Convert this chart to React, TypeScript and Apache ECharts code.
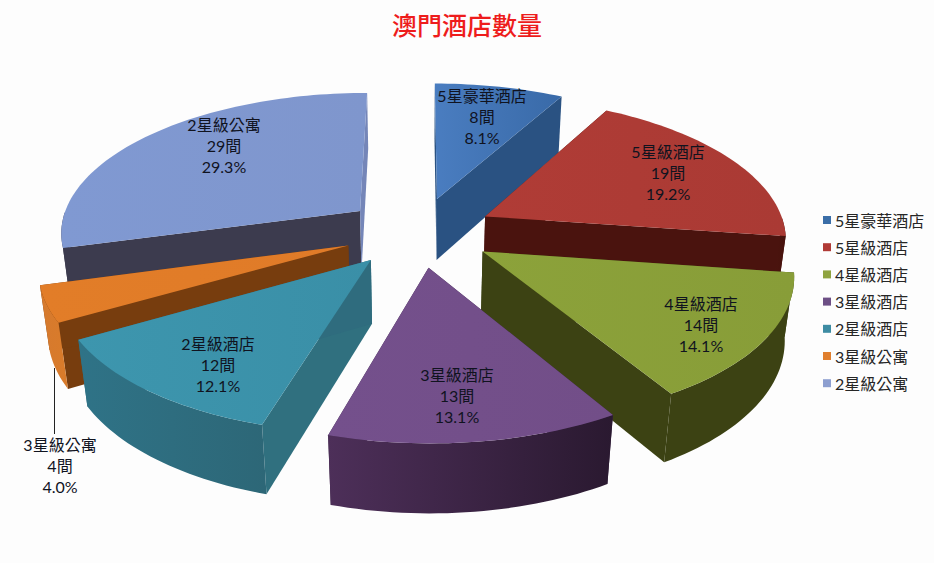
import React, { useEffect, useRef } from "react";
import * as echarts from "echarts";

// ---- data ----
const titleText = "澳門酒店數量";
const categories = ["5星豪華酒店", "5星級酒店", "4星級酒店", "3星級酒店", "2星級酒店", "3星級公寓", "2星級公寓"];
const hotelCounts = [8, 19, 14, 13, 12, 4, 29];
const unitText = "間";

// ---- styles ----
const legendColors = ["#3b6ea8", "#b03a36", "#8fa33f", "#6d4f85", "#3e8ca3", "#e07f2e", "#8d9fd0"];
const topColors = [["#4a7dc0", "#396aa8"], ["#b03c36", "#aa3a34"], ["#8ca23a", "#889d38"], ["#74508c", "#724e88"], ["#3d96ae", "#3a8fa7"], ["#e27d28", "#e07b28"], ["#8099d2", "#7f96cd"]];
const outerColors = [["#2a5282", "#2a5282"], ["#4b140e", "#47120d"], ["#3c4213", "#3c4213"], ["#4d2f59", "#2a1930"], ["#2f7387", "#2d6777"], ["#d67a2e", "#d97b2a"], ["#3c3b4e", "#3c3b4e"]];
const startWallColors = ["#2a5282", "#4a130e", "#3c4213", "#3a2445", "#30707f", "#773d0e", "#3c3b4e"];
const endWallColors = ["#2a5282", "#4a130e", "#3c4213", "#3a2445", "#2f6c7e", "#773d0e", "#7586b8"];

// ---- layout ----
const CX = 418.7, CY = 231.7, SCALE_X = 301, SCALE_Y = 140, PERSPECTIVE = 0.14;
const EXPLODE = 0.25, THICKNESS = 62.5, THICKNESS_SLOPE = 6, VERTICAL_CONVERGE = 0.024;
const labelCenters = [[482, 116], [668, 172], [701, 324], [457, 395], [218, 364], [60, 465], [224, 145]];
const LABEL_FONT = "Lato, 'Noto Sans CJK TC', sans-serif";

const total = hotelCounts.reduce((a, b) => a + b, 0);

function project(u: number, v: number) {
  const w = 1 + PERSPECTIVE * v;
  const x = CX + (SCALE_X * u) / w;
  const y = CY - (SCALE_Y * v) / w;
  return {
    top: [x, y],
    bottom: [CX + (x - CX) * (1 - VERTICAL_CONVERGE / w), y + THICKNESS - THICKNESS_SLOPE * v],
  };
}

function gradient(pair: string[]) {
  return new echarts.graphic.LinearGradient(0, 0, 1, 0, [
    { offset: 0, color: pair[0] },
    { offset: 1, color: pair[1] },
  ]);
}

function sliceRange(index: number) {
  const before = hotelCounts.slice(0, index).reduce((a, b) => a + b, 0);
  const a0 = (before / total) * Math.PI * 2;
  const a1 = ((before + hotelCounts[index]) / total) * Math.PI * 2;
  return [a0, a1];
}

function renderSlice(index: number) {
  return (_params: any, api: any) => {
    const value = api.value(0);
    const [a0, a1] = sliceRange(index);
    const mid = (a0 + a1) / 2;
    const ou = EXPLODE * Math.sin(mid);
    const ov = EXPLODE * Math.cos(mid);
    const apex = project(ou, ov);
    const steps = Math.max(4, Math.ceil((a1 - a0) / (Math.PI / 120)));
    const rim = [] as ReturnType<typeof project>[];
    const frontRim = [] as ReturnType<typeof project>[];
    for (let i = 0; i <= steps; i++) {
      const a = a0 + ((a1 - a0) * i) / steps;
      const p = project(ou + Math.sin(a), ov + Math.cos(a));
      rim.push(p);
      if (Math.cos(a) <= 0) frontRim.push(p);
    }
    const first = rim[0];
    const last = rim[rim.length - 1];
    const percent = ((value / total) * 100).toFixed(1) + "%";
    const [lx, ly] = labelCenters[index];
    const children: any[] = [
      {
        type: "polygon",
        shape: { points: [apex.top, first.top, first.bottom, apex.bottom] },
        style: { fill: startWallColors[index] },
      },
      {
        type: "polygon",
        shape: { points: [apex.top, last.top, last.bottom, apex.bottom] },
        style: { fill: endWallColors[index] },
      },
    ];
    if (frontRim.length > 1) {
      children.push({
        type: "polygon",
        shape: {
          points: [...frontRim.map((p) => p.top), ...frontRim.slice().reverse().map((p) => p.bottom)],
        },
        style: { fill: gradient(outerColors[index]) },
      });
    }
    children.push(
      {
        type: "polygon",
        shape: { points: [apex.top, ...rim.map((p) => p.top)] },
        style: { fill: gradient(topColors[index]) },
      },
      {
        type: "text",
        z2: 100,
        x: lx,
        y: ly,
        style: {
          text: `${categories[index]}\n${value}${unitText}\n${percent}`,
          align: "center",
          verticalAlign: "middle",
          lineHeight: 21,
          font: `16px ${LABEL_FONT}`,
          fill: "#10131f",
        },
      }
    );
    return { type: "group", children };
  };
}

// back slices are painted first
const paintOrder = categories
  .map((_, i) => {
    const [a0, a1] = sliceRange(i);
    return { i, depth: Math.cos((a0 + a1) / 2) };
  })
  .sort((a, b) => b.depth - a.depth)
  .map((d) => d.i);

export default function App() {
  const ref = useRef<HTMLDivElement>(null);
  useEffect(() => {
    document.body.style.margin = "0";
    document.body.style.background = "#fdfdfd";
    const chart = echarts.init(ref.current!, undefined, { renderer: "svg" });
    chart.setOption({
      animation: false,
      backgroundColor: "#fdfdfd",
      title: {
        text: titleText,
        left: 462,
        top: 6,
        textAlign: "center",
        textStyle: {
          color: "#ee1c1c",
          fontSize: 25,
          fontWeight: 500,
          fontFamily: "'Noto Sans CJK TC', sans-serif",
        },
      },
      legend: {
        data: categories,
        orient: "vertical",
        left: 818,
        top: 207,
        icon: "rect",
        itemWidth: 8,
        itemHeight: 8,
        itemGap: 11.2,
        textStyle: {
          fontSize: 16,
          color: "#262626",
          fontFamily: LABEL_FONT,
          padding: [0, 0, 0, -1],
        },
      },
      series: paintOrder.map((i, rank) => ({
        type: "custom",
        name: categories[i],
        coordinateSystem: "none",
        z: 2 + rank,
        silent: true,
        itemStyle: { color: legendColors[i] },
        data: [[hotelCounts[i]]],
        renderItem: renderSlice(i),
      })),
      graphic: [
        {
          type: "line",
          z: 50,
          shape: { x1: 54.5, y1: 368, x2: 54.5, y2: 434 },
          style: { stroke: "#222", lineWidth: 1 },
        },
      ],
    });
    return () => chart.dispose();
  }, []);
  return <div ref={ref} style={{ width: 934, height: 563 }} />;
}
